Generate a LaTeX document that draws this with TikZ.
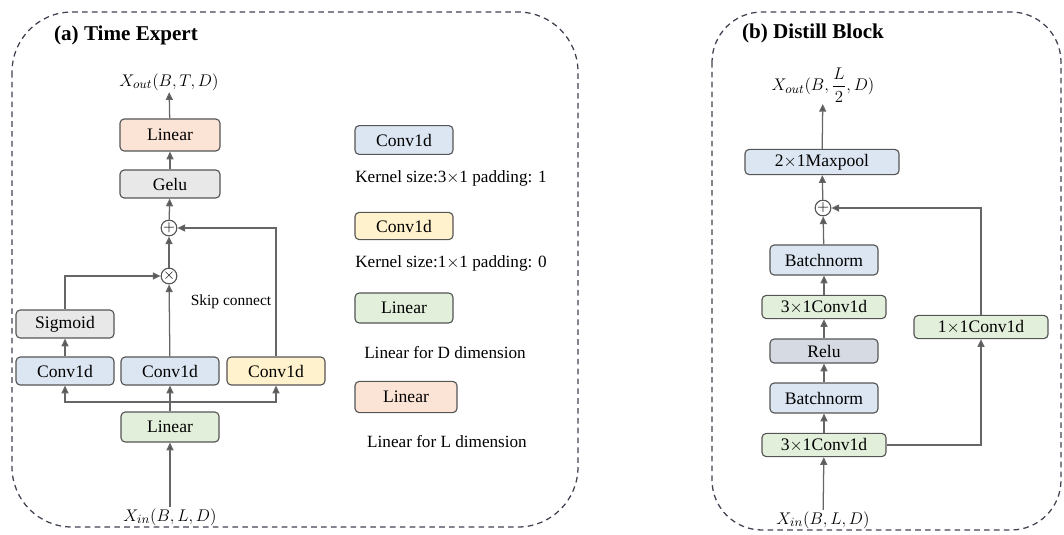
\documentclass[tikz,border=0pt]{standalone}
\usepackage{amsmath}
\usepackage{fontspec}
\setmainfont{Liberation Serif}
\usepackage{tikz}
\usetikzlibrary{arrows.meta, positioning, calc}
\definecolor{edgegray}{HTML}{555555}
\definecolor{linegray}{HTML}{666666}
\definecolor{dashgray}{HTML}{3F4350}
\definecolor{convblue}{HTML}{DCE6F2}
\definecolor{convyellow}{HTML}{FFF2CC}
\definecolor{lingreen}{HTML}{E2EFDA}
\definecolor{linpeach}{HTML}{FBE3D6}
\definecolor{actgray}{HTML}{E8E8E8}
\definecolor{relugray}{HTML}{D6DAE3}
\tikzset{
  >={Triangle[length=5.5pt,width=5pt,fill=edgegray]},
  % blocchi
  blk/.style={draw=edgegray,rounded corners=3pt,line width=0.8pt,inner sep=0pt,
    minimum width=2.45cm,minimum height=0.7cm,font=\fontsize{12.5}{14}\selectfont},
  blk blue/.style={blk,fill=convblue},
  blk yellow/.style={blk,fill=convyellow},
  blk green/.style={blk,fill=lingreen},
  blk peach/.style={blk,fill=linpeach},
  blk gray/.style={blk,fill=actgray},
  blk relu/.style={blk,fill=relugray},
  % operatori
  op/.style={draw=edgegray,circle,line width=0.8pt,fill=white,inner sep=0pt,
    minimum size=0.38cm,font=\fontsize{11}{11}\selectfont},
  % connessioni
  arr/.style={->,draw=linegray,line width=0.9pt},
  ln/.style={draw=linegray,line width=0.9pt},
  panel/.style={draw=dashgray,dash pattern=on 4pt off 3pt,line width=0.9pt}
}

\begin{document}
\begin{tikzpicture}[x=0.025cm, y=-0.025cm,
    lbl/.style={font=\fontsize{12.5}{14}\selectfont, inner sep=1pt},
    note/.style={font=\fontsize{12.2}{14}\selectfont, inner sep=0pt},
    title/.style={font=\fontsize{15}{17}\selectfont\bfseries, inner sep=0pt}]
  \useasboundingbox (0,0) rectangle (1064,534);

  % pannelli
  \draw[panel, rounded corners=1.5cm] (12,12) rectangle (578,527);
  \draw[panel, rounded corners=1.25cm] (712,12) rectangle (1061,530);
  \node[title] (ttlA) at (126,35) {(a) Time Expert};
  \node[title] (ttlB) at (813,33) {(b) Distill Block};

  % (a) Time Expert
  \node[lbl] (xoutA) at (169,82) {$X_{out}(B,T,D)$};
  \node[blk peach, minimum width=2.5cm, minimum height=0.8cm] (linL) at (170,135) {Linear};
  \node[blk gray, minimum width=2.5cm] (gelu) at (170,184) {Gelu};
  \node[op] (addA) at (169,228) {$+$};
  \node[op] (mul) at (169,276) {$\times$};
  \node[blk gray] (sigm) at (65,324) {Sigmoid};
  \node[blk blue] (convA) at (65,371) {Conv1d};
  \node[blk blue] (convB) at (170,371) {Conv1d};
  \node[blk yellow] (convC) at (276,371) {Conv1d};
  \node[blk green, minimum height=0.75cm] (linD) at (170,427) {Linear};
  \node[lbl] (xinA) at (170,517) {$X_{in}(B,L,D)$};
  \node[note, font=\fontsize{11}{13}\selectfont] (skip) at (231,302) {Skip connect};
  \coordinate (split) at (170,402);

  \draw[arr] (xinA) -- (linD);
  \draw[ln] (linD) -- (split);
  \draw[arr] (split) -| (convA);
  \draw[arr] (split) -| (convC);
  \draw[arr] (split) -- (convB);
  \draw[arr] (convA) -- (sigm);
  \draw[arr] (sigm.north) |- (mul.west);
  \draw[arr] (convB) -- (mul);
  \draw[arr] (mul) -- (addA);
  \draw[arr] (convC.north) |- (addA.east);
  \draw[arr] (addA) -- (gelu);
  \draw[arr] (gelu) -- (linL);
  \draw[arr] (linL) -- (xoutA);

  % legenda
  \node[blk blue, minimum height=0.72cm] (legA) at (404,140) {Conv1d};
  \node[note] (txtA) at (451,178) {Kernel size:3$\times$1 padding: 1};
  \node[blk yellow, minimum height=0.68cm] (legB) at (404,226) {Conv1d};
  \node[note] (txtB) at (451,263) {Kernel size:1$\times$1 padding: 0};
  \node[blk green, minimum height=0.75cm] (legC) at (404,308) {Linear};
  \node[note] (txtC) at (445,353) {Linear for D dimension};
  \node[blk peach, minimum width=2.55cm, minimum height=0.78cm] (legD) at (406,397) {Linear};
  \node[note] (txtD) at (447,442) {Linear for L dimension};

  % (b) Distill Block
  \node[lbl] (xoutB) at (823,85) {$X_{out}(B,\dfrac{L}{2},D)$};
  \node[blk blue, minimum width=3.85cm, minimum height=0.63cm] (pool) at (822,162) {2$\times$1Maxpool};
  \node[op] (addB) at (823,208) {$+$};
  \node[blk blue, minimum width=2.7cm, minimum height=0.75cm] (bnUp) at (824,260) {Batchnorm};
  \node[blk green, minimum width=3.1cm, minimum height=0.58cm] (cvUp) at (824,307) {3$\times$1Conv1d};
  \node[blk relu, minimum width=2.7cm, minimum height=0.6cm] (relu) at (824,351) {Relu};
  \node[blk blue, minimum width=2.7cm, minimum height=0.75cm] (bnLo) at (824,398) {Batchnorm};
  \node[blk green, minimum width=3.1cm, minimum height=0.58cm] (cvLo) at (824,445) {3$\times$1Conv1d};
  \node[blk green, minimum width=3.35cm, minimum height=0.58cm] (cvOne) at (981,327) {1$\times$1Conv1d};
  \node[lbl] (xinB) at (823,520) {$X_{in}(B,L,D)$};

  \draw[arr] (xinB) -- (cvLo);
  \draw[arr] (cvLo) -- (bnLo);
  \draw[arr] (bnLo) -- (relu);
  \draw[arr] (relu) -- (cvUp);
  \draw[arr] (cvUp) -- (bnUp);
  \draw[arr] (bnUp) -- (addB);
  \draw[arr] (addB) -- (pool);
  \draw[arr] (pool) -- (xoutB);
  \draw[arr] (cvLo.east) -| (cvOne.south);
  \draw[arr] (cvOne.north) |- (addB.east);
\end{tikzpicture}
\end{document}
